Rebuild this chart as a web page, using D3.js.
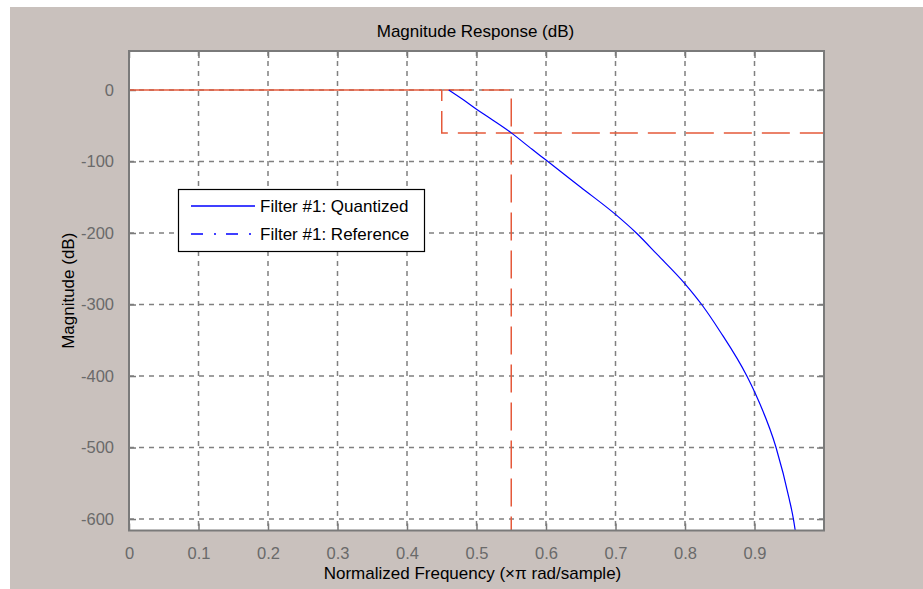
<!DOCTYPE html>
<html><head><meta charset="utf-8">
<script src="https://cdn.jsdelivr.net/npm/d3@7"></script>
<style>
html,body{margin:0;padding:0;background:#fff;}
text{font-family:"Liberation Sans",Arial,sans-serif;}
</style></head>
<body>
<svg id="chart" width="923" height="589"></svg>
<script>
// ---- data ----
const title = "Magnitude Response (dB)";
const xLabel = "Normalized Frequency (\u00d7\u03c0 rad/sample)";
const yLabel = "Magnitude (dB)";
const xTicks = [0, 0.1, 0.2, 0.3, 0.4, 0.5, 0.6, 0.7, 0.8, 0.9];
const yTicks = [0, -100, -200, -300, -400, -500, -600];
const legendLabels = ["Filter #1: Quantized", "Filter #1: Reference"];
// quantized filter response (normalized frequency, dB)
const freq = [0.46, 0.48, 0.50, 0.52, 0.55, 0.58, 0.60, 0.65, 0.70, 0.73, 0.76, 0.80, 0.824, 0.85, 0.889, 0.90, 0.931, 0.95, 0.956, 0.96];
const magDb = [0, -13, -27, -40, -60, -83, -98, -136, -174, -200, -230, -271, -300, -337, -400, -422, -500, -572, -600, -625];
// specification mask (normalized frequency, dB)
const passband = [[0, 0], [0.45, 0]];
const maskStop = [[0.45, 0], [0.55, 0], [0.55, -616]];
const maskAtten = [[0.45, 0], [0.45, -60], [1, -60]];

// ---- layout ----
const svg = d3.select("#chart");
const L = 129, R = 824, T = 51, B = 530.5;
svg.append("rect").attr("x", 10).attr("y", 7).attr("width", 913).attr("height", 582).attr("fill", "#c9c1bd");

const x = d3.scaleLinear().domain([0, 1]).range([L, R]);
const y = d3.scaleLinear().domain([-616, 54.5]).range([B, T]);

svg.append("rect").attr("x", L).attr("y", T).attr("width", R - L).attr("height", B - T).attr("fill", "#fff");

const defs = svg.append("defs");
defs.append("clipPath").attr("id", "clip").append("rect")
  .attr("x", L).attr("y", T).attr("width", R - L).attr("height", B - T);

// grid
const grid = svg.append("g").attr("stroke", "#808080").attr("stroke-width", 1.5).attr("stroke-dasharray", "5,5");
xTicks.filter(d => d > 0).forEach(d => {
  grid.append("line").attr("x1", x(d)).attr("x2", x(d)).attr("y1", T).attr("y2", B);
});
yTicks.forEach(d => {
  grid.append("line").attr("x1", L).attr("x2", R).attr("y1", y(d)).attr("y2", y(d));
});

// axes using d3 axis generators (inside ticks)
const axisColor = "#7a7a7a";
function styleAxis(g) {
  g.select(".domain").remove();
  g.selectAll(".tick line").attr("stroke", axisColor).attr("stroke-width", 1.5);
  g.selectAll(".tick text").attr("fill", "#6a6a6a").attr("font-size", 16.5).attr("font-family", "Liberation Sans, Arial, sans-serif");
}
svg.append("g").attr("transform", `translate(0,${B})`)
  .call(d3.axisBottom(x).tickValues(xTicks).tickSize(-7).tickPadding(17).tickFormat(d => d === 0 ? "0" : d.toFixed(1)))
  .call(styleAxis);
svg.append("g").attr("transform", `translate(0,${T})`)
  .call(d3.axisTop(x).tickValues(xTicks).tickSize(-7).tickFormat(""))
  .call(styleAxis);
svg.append("g").attr("transform", `translate(${L},0)`)
  .call(d3.axisLeft(y).tickValues(yTicks).tickSize(-7).tickPadding(15).tickFormat(d => String(d)))
  .call(styleAxis);
svg.append("g").attr("transform", `translate(${R},0)`)
  .call(d3.axisRight(y).tickValues(yTicks).tickSize(-7).tickFormat(""))
  .call(styleAxis);

// mask lines
const line = d3.line().x(d => x(d[0])).y(d => y(d[1]));
const plot = svg.append("g").attr("clip-path", "url(#clip)");
const red = "#e5593a";
plot.append("path").attr("d", line(passband)).attr("fill", "none").attr("stroke", red).attr("stroke-width", 1.5);
plot.append("path").attr("d", line(maskStop)).attr("fill", "none").attr("stroke", red).attr("stroke-width", 1.5)
  .attr("stroke-dasharray", "28,10").attr("stroke-dashoffset", -2);
plot.append("path").attr("d", line(maskAtten)).attr("fill", "none").attr("stroke", red).attr("stroke-width", 1.5)
  .attr("stroke-dasharray", "28,10").attr("stroke-dashoffset", 17);

// response curve
const curve = d3.line().x((d, i) => x(freq[i])).y(d => y(d)).curve(d3.curveMonotoneX);
plot.append("path").attr("d", curve(magDb)).attr("fill", "none").attr("stroke", "#0000ff").attr("stroke-width", 1.2);

// axes box
svg.append("rect").attr("x", L).attr("y", T).attr("width", R - L).attr("height", B - T)
  .attr("fill", "none").attr("stroke", axisColor).attr("stroke-width", 2);

// titles
svg.append("text").attr("x", (L + R) / 2 - 1).attr("y", 37).attr("text-anchor", "middle")
  .attr("font-size", 17).attr("fill", "#000").text(title);
svg.append("text").attr("x", (L + R) / 2 - 4).attr("y", 579).attr("text-anchor", "middle")
  .attr("font-size", 17).attr("fill", "#000").text(xLabel);
svg.append("text").attr("transform", `translate(74,${(T + B) / 2}) rotate(-90)`).attr("text-anchor", "middle")
  .attr("font-size", 17).attr("fill", "#000").text(yLabel);

// legend
const lg = svg.append("g");
lg.append("rect").attr("x", 178.5).attr("y", 189.5).attr("width", 246).attr("height", 62)
  .attr("fill", "#fff").attr("stroke", "#000").attr("stroke-width", 1.2);
const rows = [206, 234];
const dashes = [null, "12,11,2,10"];
legendLabels.forEach((lab, i) => {
  const l = lg.append("line").attr("x1", 191).attr("x2", 255).attr("y1", rows[i]).attr("y2", rows[i])
    .attr("stroke", "#0000ff").attr("stroke-width", 1.3);
  if (dashes[i]) l.attr("stroke-dasharray", dashes[i]);
  lg.append("text").attr("x", 260).attr("y", rows[i] + 6).attr("font-size", 17).attr("fill", "#000").text(lab);
});
</script>
</body></html>
